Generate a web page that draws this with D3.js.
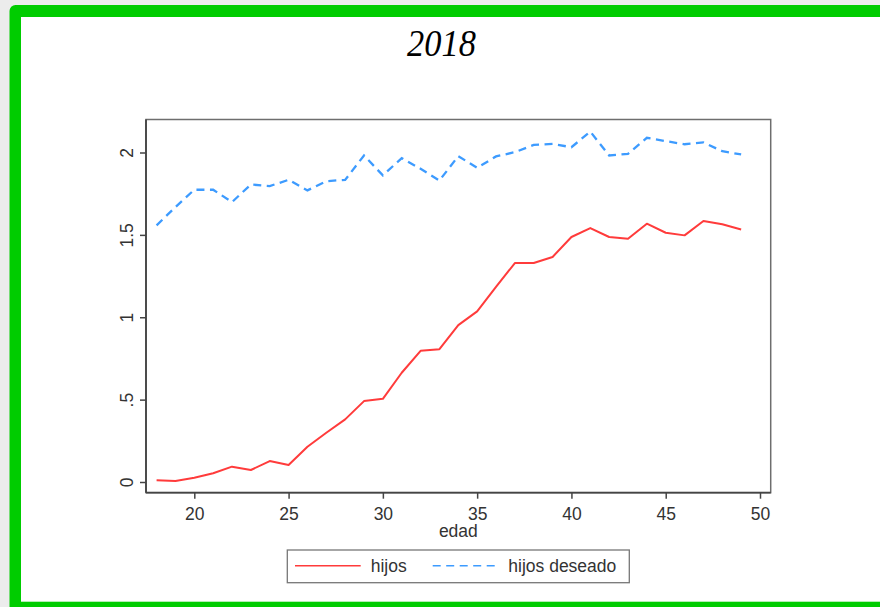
<!DOCTYPE html>
<html>
<head>
<meta charset="utf-8">
<script src="https://cdn.jsdelivr.net/npm/d3@7"></script>
<style>
  html, body { margin: 0; padding: 0; background: #ececec; }
  svg { display: block; }
  text { font-family: "Liberation Sans", Arial, sans-serif; }
</style>
</head>
<body>
<svg id="chart" width="880" height="607"></svg>
<script>
// ---- data ----
const ages = [18,19,20,21,22,23,24,25,26,27,28,29,30,31,32,33,34,35,36,37,38,39,40,41,42,43,44,45,46,47,48,49];
const hijos = [0.010,0.006,0.026,0.053,0.093,0.073,0.127,0.103,0.214,0.299,0.380,0.491,0.505,0.663,0.796,0.806,0.952,1.036,1.184,1.329,1.329,1.366,1.487,1.541,1.487,1.477,1.568,1.513,1.497,1.584,1.564,1.533];
const hijosDeseado = [1.558,1.669,1.774,1.774,1.699,1.806,1.796,1.834,1.770,1.826,1.834,1.982,1.861,1.966,1.901,1.830,1.978,1.907,1.976,2.002,2.046,2.052,2.032,2.127,1.982,1.992,2.089,2.069,2.050,2.061,2.008,1.988];
const xTicks = [20,25,30,35,40,45,50];
const yTicks = [0,0.5,1,1.5,2];
const yTickLabels = ["0",".5","1","1.5","2"];
const seriesNames = ["hijos","hijos deseado"];
const titleText = "2018";
const xLabel = "edad";

// ---- layout ----
const svg = d3.select("#chart");
const W = 880, H = 607;
const frame = {left: 146, right: 770.7, top: 119.5, bottom: 492.7};
const red = "#ff3b3b", blue = "#3d9bff";

// page background + green border
svg.append("rect").attr("x",0).attr("y",0).attr("width",W).attr("height",H).attr("fill","#ececec");
svg.append("rect").attr("x",9.5).attr("y",5).attr("width",900).attr("height",640).attr("rx",6).attr("fill","#00cc00");
svg.append("rect").attr("x",21).attr("y",17).attr("width",900).attr("height",584.7).attr("fill","#ffffff");

// title
svg.append("text").attr("transform","translate(441.5,56) scale(0.93,1)").attr("text-anchor","middle")
  .style("font-family","'Liberation Serif', 'Times New Roman', serif")
  .style("font-style","italic").style("font-size","37px").attr("fill","#000")
  .text(titleText);

// scales
const x = d3.scaleLinear().domain([20,50]).range([194.3,760]);
const y = d3.scaleLinear().domain([0,2]).range([482,152.5]);

// plot area frame
svg.append("rect").attr("x",frame.left).attr("y",frame.top)
  .attr("width",frame.right-frame.left).attr("height",frame.bottom-frame.top)
  .attr("fill","#fff").attr("stroke","#6e6e6e").attr("stroke-width",1.5);

// x axis
const gx = svg.append("g").attr("transform",`translate(0,${frame.bottom})`)
  .call(d3.axisBottom(x).tickValues(xTicks).tickSize(6).tickPadding(9).tickFormat(d3.format("d")));
gx.select(".domain").attr("stroke","#444").attr("stroke-width",1.8)
  .attr("d",`M${frame.left},0H${frame.right}`);
gx.selectAll(".tick line").attr("stroke","#444").attr("stroke-width",1.5);
gx.selectAll(".tick text").style("font-size","17.5px").attr("fill","#333")
  .style("font-family","'Liberation Sans', Arial, sans-serif");

// y axis
const gy = svg.append("g").attr("transform",`translate(${frame.left},0)`)
  .call(d3.axisLeft(y).tickValues(yTicks).tickSize(6).tickFormat((d,i)=>yTickLabels[i]));
gy.select(".domain").attr("stroke","#444").attr("stroke-width",1.8)
  .attr("d",`M0,${frame.top}V${frame.bottom}`);
gy.selectAll(".tick line").attr("stroke","#444").attr("stroke-width",1.5);
gy.selectAll(".tick text").style("font-size","17.5px").attr("fill","#333")
  .style("font-family","'Liberation Sans', Arial, sans-serif")
  .attr("x",0).attr("dy",0).attr("text-anchor","middle")
  .attr("transform","translate(-13.3,0) rotate(-90)");

// x label
svg.append("text").attr("x",(frame.left+frame.right)/2).attr("y",537)
  .attr("text-anchor","middle").style("font-size","17.5px").attr("fill","#333").text(xLabel);

// lines
const line = d3.line().x(d=>x(d[0])).y(d=>y(d[1]));
svg.append("path").datum(ages.map((a,i)=>[a,hijos[i]]))
  .attr("d",line).attr("fill","none").attr("stroke",red).attr("stroke-width",2)
  .attr("stroke-linejoin","round");
svg.append("path").datum(ages.map((a,i)=>[a,hijosDeseado[i]]))
  .attr("d",line).attr("fill","none").attr("stroke",blue).attr("stroke-width",2.3)
  .attr("stroke-dasharray","8,5.5");

// legend
const lg = svg.append("g");
lg.append("rect").attr("x",287.3).attr("y",550).attr("width",342).attr("height",32.7)
  .attr("fill","#fff").attr("stroke","#777").attr("stroke-width",1.3);
lg.append("line").attr("x1",295).attr("x2",360.7).attr("y1",565.7).attr("y2",565.7)
  .attr("stroke",red).attr("stroke-width",1.6);
lg.append("text").attr("x",370.7).attr("y",572).style("font-size","17.5px").attr("fill","#333").text(seriesNames[0]);
lg.append("line").attr("x1",432.7).attr("x2",498.3).attr("y1",565.7).attr("y2",565.7)
  .attr("stroke",blue).attr("stroke-width",1.6).attr("stroke-dasharray","8,5.5");
lg.append("text").attr("x",508.3).attr("y",572).style("font-size","17.5px").attr("fill","#333").text(seriesNames[1]);
</script>
</body>
</html>
